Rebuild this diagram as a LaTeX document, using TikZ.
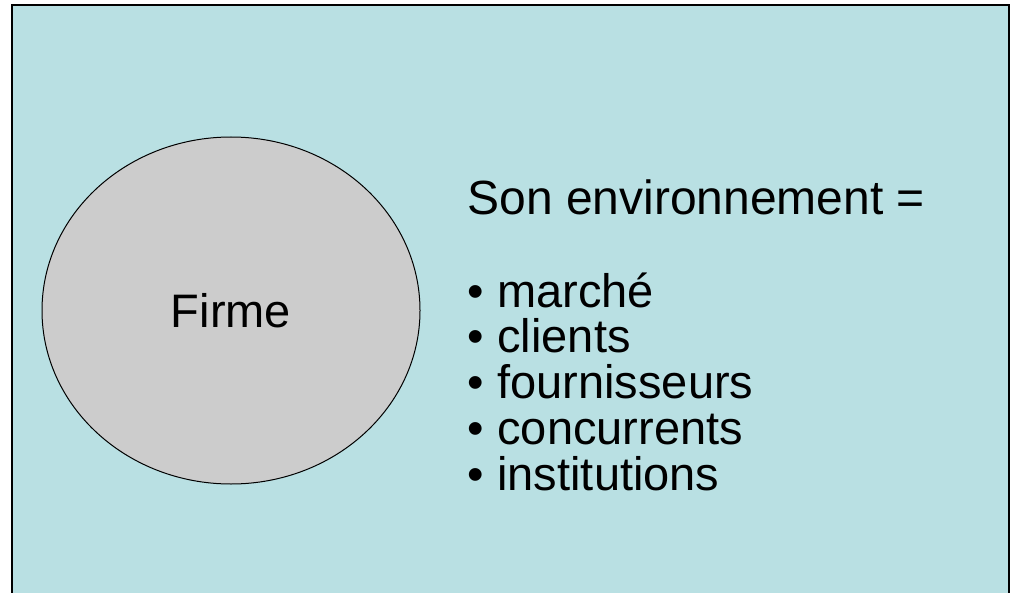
\documentclass[tikz,border=0pt]{standalone}
\usepackage{fontspec}
\setmainfont{Liberation Sans}
\usetikzlibrary{shapes.geometric,positioning}

\definecolor{fond}{RGB}{185,224,227}
\definecolor{gris}{RGB}{204,204,204}

\begin{document}
\begin{tikzpicture}[
        x=0.5pt, y=-0.5pt,
        every node/.style={inner sep=0pt, font=\fontsize{23.5}{28}\selectfont},
        firmebox/.style={draw, ellipse, fill=gris, line width=0.5pt, minimum width=189pt, minimum height=173.5pt},
        ligne/.style={anchor=base west}
    ]
  \useasboundingbox (0,0) rectangle (1010,593);
  \begin{scope}
    \clip (0,0) rectangle (1010,593);
    \draw[fill=fond, line width=1pt] (12,5) rectangle (1009,620);
  \end{scope}

  % Nodes
  \node (firme) [firmebox] at (231,310.5) {Firme};
  \node (titre) [ligne, font=\fontsize{24}{28}\selectfont] at (467,214) {Son environnement =};

  \foreach \mot [count=\i] in {marché,clients,fournisseurs,concurrents,institutions}
    \node (item\i) [ligne] at (467,{307+45.8*(\i-1)}) {\makebox[15pt][l]{\textbullet}\mot};
\end{tikzpicture}
\end{document}
